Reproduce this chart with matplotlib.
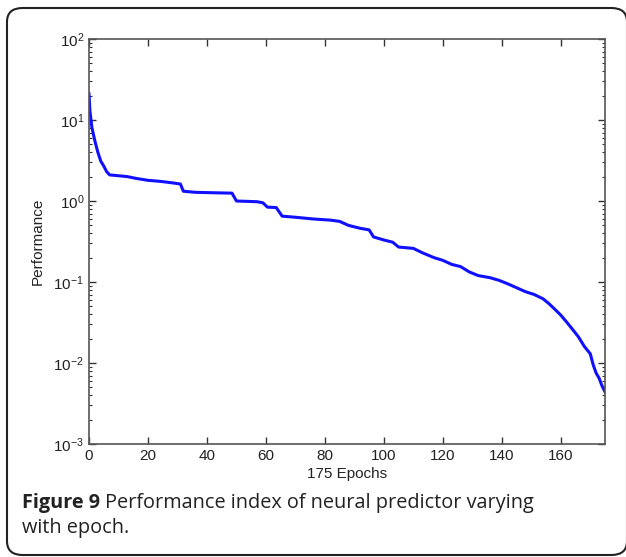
import numpy as np
import matplotlib
matplotlib.use('Agg')
import matplotlib.pyplot as plt
from matplotlib.patches import FancyBboxPatch

# performance (epoch, value)
epochs = [0, 0.3, 1, 2, 3, 4, 5, 6, 7, 10, 13, 16, 20, 24, 28, 31,
          32, 36, 44, 48.5, 50, 57, 59, 60.5, 63.5, 65.5, 70, 76, 82, 85,
          88, 92, 95, 96.5, 100, 103, 105, 110, 113, 117, 120, 123, 126,
          129, 132, 136, 139, 142, 145, 148, 151, 154, 156, 158, 160, 162,
          164, 166, 168, 170, 171, 172, 173, 174, 175]
perf = [21, 13, 8, 5.5, 4, 3.1, 2.7, 2.3, 2.1, 2.05, 2.0, 1.9, 1.8, 1.75,
        1.68, 1.62, 1.32, 1.28, 1.26, 1.25, 1.0, 0.98, 0.95, 0.84, 0.83,
        0.65, 0.63, 0.60, 0.58, 0.56, 0.50, 0.46, 0.44, 0.36, 0.33, 0.31,
        0.27, 0.26, 0.23, 0.20, 0.185, 0.165, 0.155, 0.133, 0.12, 0.113,
        0.105, 0.095, 0.085, 0.076, 0.07, 0.062, 0.054, 0.046, 0.039,
        0.032, 0.026, 0.021, 0.016, 0.013, 0.0095, 0.0075, 0.0065, 0.0052,
        0.0044]
xticks = [0, 20, 40, 60, 80, 100, 120, 140, 160]

plt.rcParams['font.family'] = ['Liberation Sans', 'DejaVu Sans']

fig = plt.figure(figsize=(6.26, 5.57), dpi=100)

# rounded frame round the figure
frame = FancyBboxPatch((7/626, 2/557), 620/626, 547/557,
                       boxstyle='round,pad=0,rounding_size=0.025',
                       transform=fig.transFigure, fill=False,
                       ec='#222222', lw=1.5)
fig.patches.append(frame)

ax = fig.add_axes([89/626, 113/557, 516/626, 405/557])
ax.plot(epochs, perf, color='#1010ff', lw=2.2)
ax.set_yscale('log')
ax.set_ylim(1e-3, 1e2)
ax.set_xlim(0, 175)
ax.set_xticks(xticks)
ax.tick_params(which='both', direction='in', top=True, right=True,
               labelsize=11, colors='#333333', labelcolor='#222222')
ax.tick_params(which='major', length=5, width=1)
ax.tick_params(which='minor', length=2.5, width=0.8)
ax.tick_params(axis='x', which='minor', bottom=False, top=False)
for s in ax.spines.values():
    s.set_color('#555555')
    s.set_linewidth(1.2)
ax.set_xlabel('175 Epochs', fontsize=11, color='#222222', labelpad=3)
ax.set_ylabel('Performance', fontsize=11, color='#222222', labelpad=6)

# caption: bold "Figure 9" then regular text
cap_font = ['Open Sans', 'DejaVu Sans']
t1 = fig.text(22/626, 1 - 503/557, 'Figure 9', fontsize=14.3, weight='bold',
              family=cap_font, va='center', color='#222222')
fig.canvas.draw()
bb = t1.get_window_extent()
fig.text(bb.x1/626 + 5/626, 1 - 503/557,
         'Performance index of neural predictor varying', fontsize=14.3,
         family=cap_font, va='center', color='#222222')
fig.text(22/626, 1 - 528/557, 'with epoch.', fontsize=14.3,
         family=cap_font, va='center', color='#222222')

fig.savefig('out.png', dpi=100)
